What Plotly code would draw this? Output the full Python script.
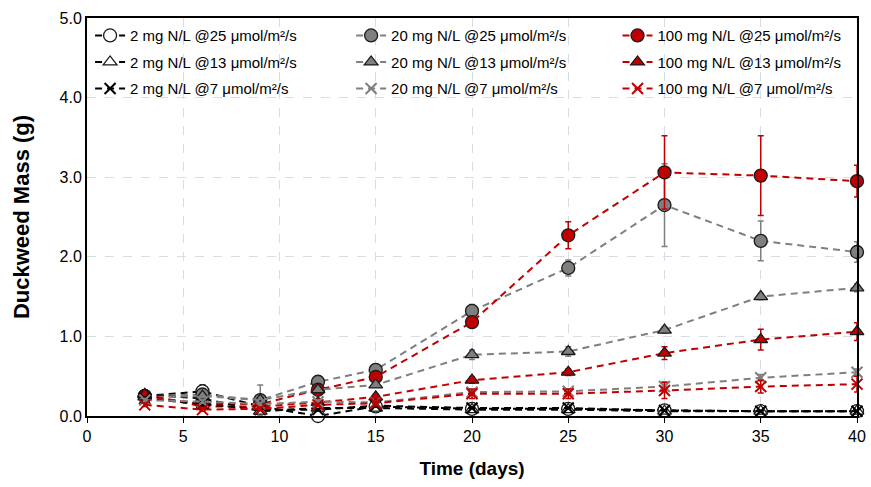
import plotly.graph_objects as go

days = [3, 6, 9, 12, 15, 20, 25, 30, 35, 40]

names = [
    "2 mg N/L @25 μmol/m²/s", "20 mg N/L @25 μmol/m²/s", "100 mg N/L @25 μmol/m²/s",
    "2 mg N/L @13 μmol/m²/s", "20 mg N/L @13 μmol/m²/s", "100 mg N/L @13 μmol/m²/s",
    "2 mg N/L @7 μmol/m²/s", "20 mg N/L @7 μmol/m²/s", "100 mg N/L @7 μmol/m²/s",
]

n2_25 = [0.25, 0.31, 0.12, 0.00, 0.12, 0.09, 0.09, 0.07, 0.06, 0.06]
n20_25 = [0.25, 0.27, 0.20, 0.43, 0.58, 1.32, 1.86, 2.65, 2.20, 2.06]
n100_25 = [0.25, 0.15, 0.15, 0.33, 0.49, 1.18, 2.27, 3.06, 3.02, 2.95]
n2_13 = [0.27, 0.22, 0.06, 0.10, 0.10, 0.08, 0.08, 0.06, 0.06, 0.06]
n20_13 = [0.24, 0.25, 0.20, 0.33, 0.39, 0.77, 0.81, 1.08, 1.50, 1.61]
n100_13 = [0.27, 0.12, 0.12, 0.17, 0.24, 0.45, 0.55, 0.79, 0.96, 1.06]
n2_7 = [0.22, 0.15, 0.08, 0.08, 0.13, 0.10, 0.10, 0.07, 0.06, 0.06]
n20_7 = [0.20, 0.18, 0.15, 0.18, 0.17, 0.30, 0.31, 0.37, 0.48, 0.55]
n100_7 = [0.14, 0.08, 0.09, 0.14, 0.16, 0.28, 0.28, 0.32, 0.37, 0.40]

e2_25 = [0.02, 0.08, 0.02, 0.01, 0.02, 0.01, 0.01, 0.01, 0.01, 0.01]
e20_25 = [0.03, 0.03, 0.19, 0.03, 0.03, 0.08, 0.10, 0.52, 0.25, 0.13]
e100_25 = [0.02, 0.02, 0.02, 0.02, 0.03, 0.05, 0.17, 0.46, 0.50, 0.20]
e2_13 = [0.02, 0.02, 0.01, 0.01, 0.02, 0.01, 0.01, 0.01, 0.01, 0.01]
e20_13 = [0.03, 0.03, 0.02, 0.03, 0.03, 0.06, 0.06, 0.04, 0.04, 0.05]
e100_13 = [0.03, 0.02, 0.02, 0.02, 0.03, 0.04, 0.04, 0.08, 0.13, 0.11]
e2_7 = [0.02, 0.02, 0.01, 0.01, 0.02, 0.01, 0.01, 0.01, 0.01, 0.01]
e20_7 = [0.02, 0.02, 0.02, 0.02, 0.02, 0.03, 0.03, 0.06, 0.04, 0.04]
e100_7 = [0.02, 0.02, 0.02, 0.02, 0.03, 0.06, 0.06, 0.10, 0.08, 0.10]

values = [n2_25, n20_25, n100_25, n2_13, n20_13, n100_13, n2_7, n20_7, n100_7]
errors = [e2_25, e20_25, e100_25, e2_13, e20_13, e100_13, e2_7, e20_7, e100_7]

BLACK = "#000000"
GRAY = "#7f7f7f"
RED = "#c00000"
line_colors = [BLACK, GRAY, RED] * 3
symbols = ["circle"] * 3 + ["triangle-up"] * 3 + ["x-thin"] * 3
fills = ["#ffffff", GRAY, RED] * 2 + [BLACK, GRAY, RED]
legend_ids = ["legend", "legend2", "legend3"] * 3

fig = go.Figure()
for i in range(9):
    col = line_colors[i]
    sym = symbols[i]
    if sym == "x-thin":
        marker = dict(symbol=sym, size=11, color=col, line=dict(color=col, width=2))
    else:
        marker = dict(symbol=sym, size=13 if sym == "circle" else 12,
                      color=fills[i], line=dict(color="#1a1a1a", width=1.3))
    fig.add_trace(go.Scatter(
        x=days, y=values[i], name=names[i], mode="lines+markers",
        line=dict(color=col, width=2, dash="7px,5px"),
        marker=marker,
        error_y=dict(type="data", array=errors[i], color=col, thickness=1.5, width=3),
        cliponaxis=False,
        legend=legend_ids[i], legendgroup="g%d" % i,
    ))

def leg(xpos):
    return dict(orientation="v", x=xpos, y=0.997, xanchor="left", yanchor="top",
                bgcolor="rgba(0,0,0,0)", font=dict(size=15), tracegroupgap=4,
                traceorder="grouped")

grid = "#d5dde8"
fig.update_layout(
    width=871, height=487,
    margin=dict(l=87, r=5, t=18, b=71),
    paper_bgcolor="white", plot_bgcolor="white",
    font=dict(family="Liberation Sans, Arial, sans-serif", color="#000000", size=16),
    showlegend=True,
    legend=leg(0.004), legend2=leg(0.343), legend3=leg(0.689),
    xaxis=dict(range=[0, 40], dtick=5, tick0=0, showgrid=True, gridcolor=grid,
               griddash="dash", gridwidth=1, showline=True, linecolor="#000000",
               linewidth=2, mirror=True, ticks="outside", ticklen=5, tickcolor="#000000",
               zeroline=False, tickfont=dict(size=16), ticklabeloverflow="allow",
               title=dict(text="<b>Time (days)</b>", font=dict(size=19), standoff=17)),
    yaxis=dict(range=[0, 5], dtick=1, tick0=0, tickformat=".1f", showgrid=True,
               gridcolor=grid, griddash="dash", gridwidth=1, showline=True,
               linecolor="#000000", linewidth=2, mirror=True, ticks="", zeroline=False,
               tickfont=dict(size=16),
               title=dict(text="<b>Duckweed Mass (g)</b>", font=dict(size=22), standoff=24)),
)

fig.write_html("out.html", config={"displayModeBar": False},
               post_script="document.body.style.margin='0';document.body.style.overflow='hidden';")
